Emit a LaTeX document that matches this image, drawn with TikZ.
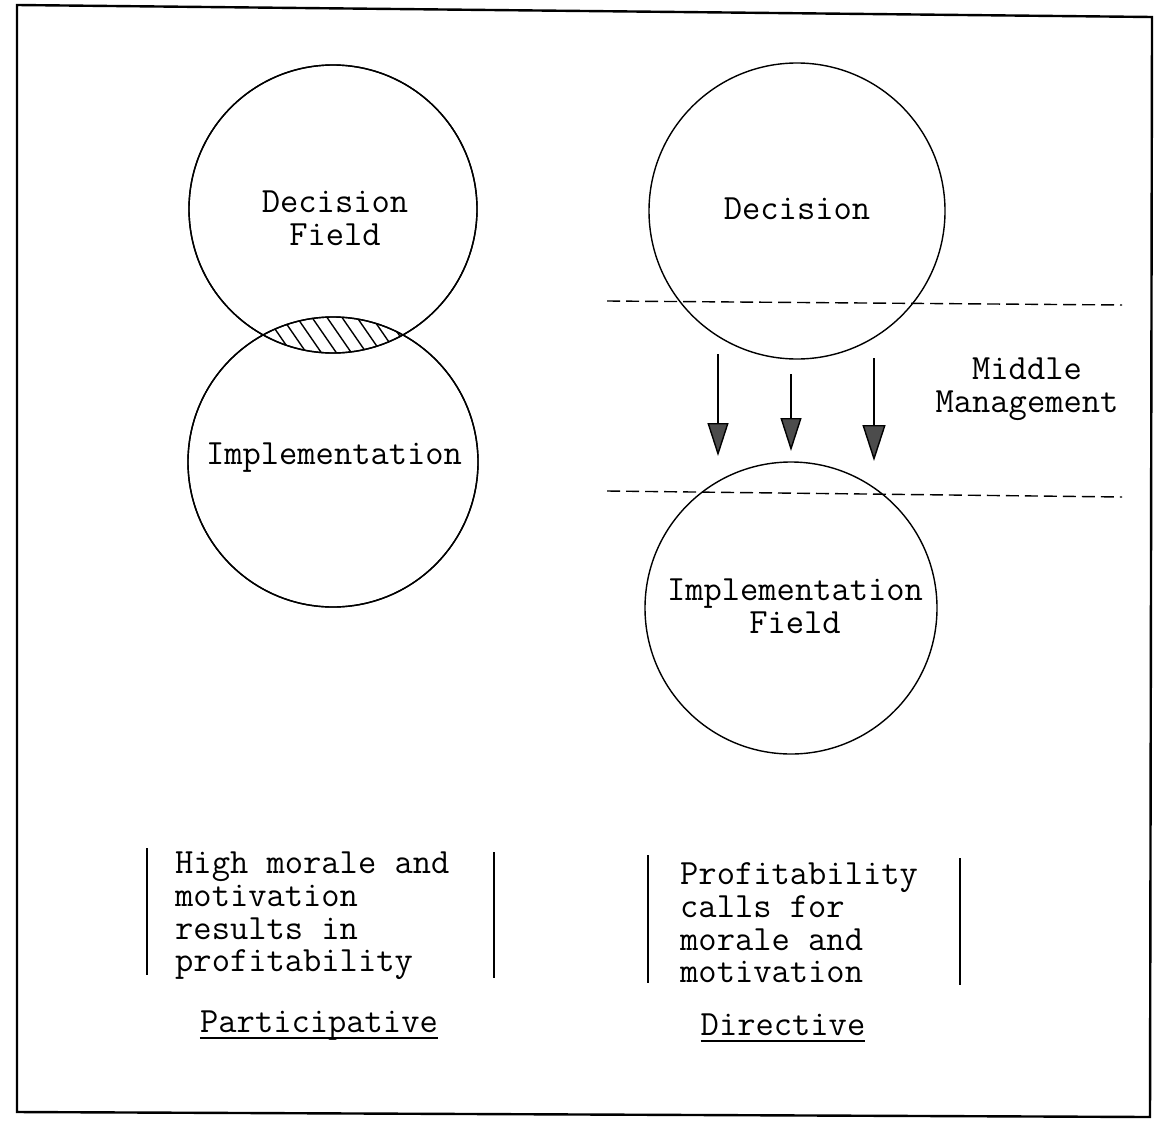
\documentclass[tikz,border=0pt]{standalone}
\usepackage{fontspec}
\usetikzlibrary{arrows.meta}
\begin{document}
\begin{tikzpicture}[x=1pt,y=-1pt,
  txt/.style={font=\ttfamily\fontsize{35.5}{32.6}\selectfont, inner sep=0pt},
  field/.style={circle, draw, line width=1.4pt, inner sep=0pt},
  level/.style={line width=1.4pt, dash pattern=on 13pt off 6pt},
  bar/.style={line width=1.8pt},
  hatch/.style={line width=1.4pt},
  frame/.style={line width=2.4pt, line join=miter},
  flow/.style={line width=1.4pt},
  push/.style={flow, -{Triangle[width=21pt,length=33pt,fill=black!70]}},
  pushbig/.style={flow, -{Triangle[width=23pt,length=36pt,fill=black!70]}},
]
\useasboundingbox (0,0) rectangle (1155,1127);

% outer frame
\coordinate (f1) at (17,5);
\coordinate (f2) at (1152,17);
\coordinate (f3) at (1150,1117);
\coordinate (f4) at (17,1112);
\draw[frame] (f1) -- (f2) -- (f3) -- (f4) -- cycle;

% participative: overlapping fields
\node[field, minimum size=288pt] (dec1) at (333,209) {};
\node[field, minimum size=290pt] (imp1) at (333,462) {};
\begin{scope}
  \clip (dec1.center) circle[radius=144pt];
  \clip (imp1.center) circle[radius=145pt];
  \foreach \x in {240,255,...,420}
    \draw[hatch] (\x,300) -- ++(40,58);
\end{scope}
\draw[line width=1.4pt] (dec1.center) circle[radius=144pt];
\draw[line width=1.4pt] (imp1.center) circle[radius=145pt];
\node[txt, align=center] (dec1t) at (335,218) {Decision\\Field};
\node[txt] (imp1t) at (334,458) {Implementation};

% directive: separated fields
\node[field, minimum size=296pt] (dec2) at (797,211) {};
\node[field, minimum size=292pt] (imp2) at (791,608) {};
\node[txt] (dec2t) at (797,209) {Decision};
\node[txt, align=center] (imp2t) at (795,606) {Implementation\\Field};

% middle management band
\coordinate (l1a) at (607,301);
\coordinate (l1b) at (1122,305);
\coordinate (l2a) at (607,491);
\coordinate (l2b) at (1122,497);
\draw[level] (l1a) -- (l1b);
\draw[level] (l2a) -- (l2b);
\node[txt, align=center] (mm) at (1027,389) {Middle\\Management};

% downward flows
\coordinate (a1s) at (718,354); \coordinate (a1e) at (718,456);
\coordinate (a2s) at (791,374); \coordinate (a2e) at (791,451);
\coordinate (a3s) at (874,358); \coordinate (a3e) at (874,461);
\draw[push] (a1s) -- (a1e);
\draw[push] (a2s) -- (a2e);
\draw[pushbig] (a3s) -- (a3e);

% outcome statements
\node[txt, align=left, anchor=west] (note1) at (175,916)
  {High morale and\\motivation\\results in\\profitability};
\coordinate (b1a) at (147,848); \coordinate (b1b) at (147,975);
\coordinate (b1c) at (494,852); \coordinate (b1d) at (494,978);
\draw[bar] (b1a) -- (b1b);
\draw[bar] (b1c) -- (b1d);

\node[txt, align=left, anchor=west] (note2) at (680,923)
  {Profitability\\calls for\\morale and\\motivation};
\coordinate (b2a) at (648,855); \coordinate (b2b) at (648,983);
\coordinate (b2c) at (960,858); \coordinate (b2d) at (960,985);
\draw[bar] (b2a) -- (b2b);
\draw[bar] (b2c) -- (b2d);

% style captions
\node[txt, anchor=base] (cap1) at (319,1032) {Participative};
\draw[line width=1.6pt] ([yshift=-6pt]cap1.base west) -- ([yshift=-6pt]cap1.base east);
\node[txt, anchor=base] (cap2) at (783,1035) {Directive};
\draw[line width=1.6pt] ([yshift=-6pt]cap2.base west) -- ([yshift=-6pt]cap2.base east);
\end{tikzpicture}
\end{document}
